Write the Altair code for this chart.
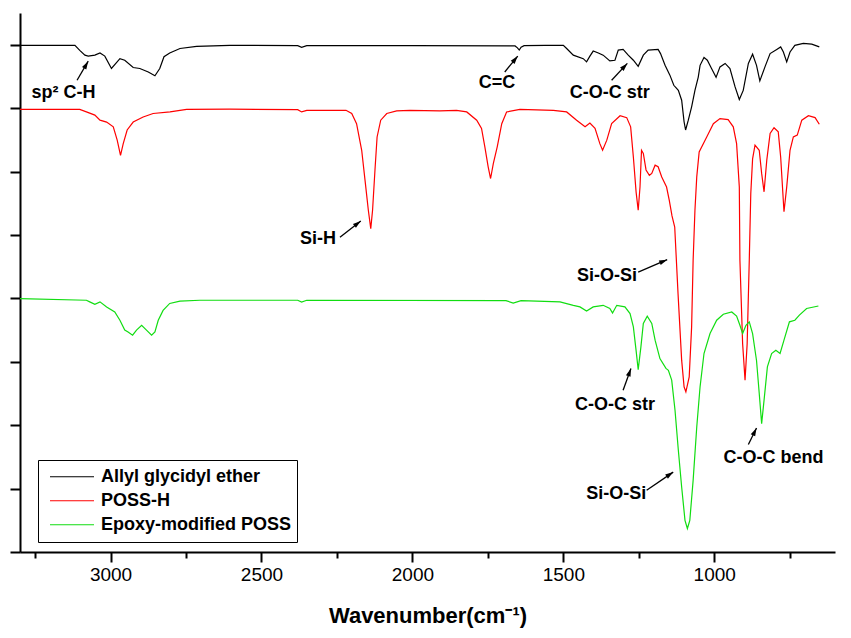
import math
import altair as alt
import pandas as pd

# ---------------- data ----------------
series_names = ["Allyl glycidyl ether", "POSS-H", "Epoxy-modified POSS"]
series_colors = ["#000000", "#ff0000", "#11dd11"]

allyl_wn = [3300, 3118, 3102, 3085, 3074, 3052, 3035, 3019, 2997, 2969, 2953, 2925, 2903, 2875,
            2853, 2837, 2823, 2804, 2770, 2715, 2605, 2380, 2367, 2350, 2000, 1660, 1652, 1646,
            1640, 1630, 1560, 1500, 1489, 1467, 1434, 1423, 1412, 1401, 1384, 1368, 1346, 1329,
            1318, 1302, 1285, 1268, 1252, 1235, 1219, 1186, 1178, 1163, 1147, 1134, 1119, 1108,
            1100, 1095, 1086, 1075, 1064, 1053, 1047, 1034, 1023, 1009, 994, 981, 964, 948, 931,
            917, 904, 887, 873, 860, 849, 832, 815, 793, 780, 771, 760, 749, 733, 705, 677, 652]
allyl_t = [15.98, 15.98, 15.82, 15.67, 15.64, 15.67, 15.74, 15.64, 15.25, 15.56, 15.51, 15.28,
           15.25, 15.14, 15.02, 15.25, 15.62, 15.74, 15.88, 15.95, 15.98, 15.97, 15.92, 15.97,
           15.97, 15.96, 15.90, 15.83, 15.92, 15.97, 15.98, 15.98, 15.88, 15.67, 15.56, 15.46,
           15.64, 15.80, 15.74, 15.67, 15.49, 15.51, 15.83, 15.85, 15.67, 15.51, 15.32, 15.67,
           15.83, 15.85, 15.72, 15.35, 15.04, 14.72, 14.56, 14.25, 13.57, 13.31, 13.62, 14.04,
           14.56, 14.98, 15.35, 15.60, 15.51, 15.25, 14.97, 15.30, 15.41, 15.25, 14.67, 14.27,
           14.56, 15.41, 15.70, 15.35, 14.86, 15.30, 15.72, 15.85, 15.93, 15.77, 15.46, 15.77,
           15.98, 16.04, 16.02, 15.93]

possh_wn = [3300, 3102, 3080, 3052, 3035, 3013, 2991, 2978, 2967, 2958, 2945, 2925, 2892, 2859,
            2803, 2748, 2605, 2380, 2367, 2350, 2220, 2201, 2185, 2168, 2157, 2146, 2138, 2132,
            2124, 2117, 2105, 2085, 2052, 2008, 1909, 1854, 1820, 1787, 1771, 1760, 1749, 1741,
            1732, 1719, 1704, 1688, 1644, 1533, 1489, 1456, 1428, 1412, 1395, 1379, 1370, 1356,
            1340, 1312, 1290, 1277, 1268, 1259, 1252, 1246, 1241, 1235, 1226, 1215, 1207, 1196,
            1186, 1174, 1158, 1149, 1140, 1131, 1120, 1108, 1100, 1094, 1083, 1075, 1070, 1064,
            1058, 1050, 1025, 1003, 981, 954, 937, 926, 917, 915, 906, 898, 891, 884, 879, 873,
            865, 851, 843, 835, 826, 815, 802, 788, 780, 769, 760, 749, 738, 725, 710, 688, 666, 652]
possh_t = [13.96, 13.96, 13.88, 13.78, 13.62, 13.56, 13.41, 12.99, 12.51, 12.88, 13.31, 13.56,
           13.72, 13.83, 13.88, 13.96, 13.97, 13.95, 13.88, 13.93, 13.93, 13.83, 13.51, 12.67,
           11.73, 10.78, 10.20, 10.78, 12.05, 13.09, 13.62, 13.83, 13.91, 13.93, 13.91, 13.93,
           13.88, 13.62, 13.36, 12.78, 12.15, 11.78, 12.25, 12.78, 13.51, 13.88, 13.96, 13.93,
           13.88, 13.62, 13.41, 13.53, 13.36, 12.88, 12.67, 12.99, 13.51, 13.76, 13.70, 13.41,
           12.46, 11.36, 10.78, 11.51, 12.67, 12.57, 12.05, 11.88, 11.94, 12.20, 12.15, 11.83,
           11.51, 11.09, 10.60, 10.25, 8.15, 6.05, 5.21, 5.05, 5.52, 7.10, 9.20, 10.78, 11.83,
           12.62, 13.09, 13.51, 13.67, 13.64, 13.41, 12.88, 11.51, 9.20, 6.57, 5.42, 6.57, 9.20,
           11.31, 12.40, 12.83, 12.67, 11.94, 11.36, 12.36, 13.20, 13.38, 13.25, 12.46, 10.73,
           11.51, 12.67, 13.09, 13.15, 13.62, 13.76, 13.70, 13.49]

epoxy_wn = [3300, 3080, 3069, 3052, 3035, 3013, 2986, 2969, 2953, 2942, 2927, 2914, 2897, 2881,
            2864, 2853, 2842, 2826, 2804, 2770, 2704, 2380, 2367, 2350, 1690, 1666, 1640, 1511,
            1467, 1445, 1423, 1401, 1368, 1346, 1337, 1323, 1296, 1279, 1268, 1259, 1252, 1243,
            1235, 1222, 1207, 1196, 1180, 1160, 1152, 1141, 1130, 1119, 1108, 1097, 1089, 1081,
            1070, 1058, 1047, 1034, 1014, 992, 970, 942, 926, 915, 906, 895, 884, 873, 860, 851,
            843, 835, 824, 810, 796, 782, 769, 751, 733, 718, 694, 655]
epoxy_t = [7.99, 7.94, 7.89, 7.81, 7.89, 7.73, 7.57, 7.31, 7.00, 6.94, 6.84, 7.00, 7.15, 7.00,
           6.84, 6.94, 7.31, 7.62, 7.84, 7.91, 7.94, 7.94, 7.88, 7.94, 7.93, 7.85, 7.93, 7.89,
           7.78, 7.73, 7.60, 7.73, 7.78, 7.68, 7.54, 7.78, 7.73, 7.52, 7.10, 6.36, 5.75, 6.47,
           7.21, 7.44, 7.21, 6.68, 6.10, 5.79, 5.73, 5.42, 4.47, 3.21, 2.05, 1.00, 0.74, 1.00,
           2.26, 3.94, 5.21, 6.26, 6.89, 7.31, 7.50, 7.57, 7.44, 7.15, 6.89, 7.15, 7.26, 6.89,
           6.04, 5.00, 4.05, 4.79, 5.84, 6.26, 6.36, 6.26, 6.68, 7.26, 7.31, 7.47, 7.68, 7.76]

# annotations: label centre and arrow tail -> head (data units)
ann_text = ["sp² C-H", "C=C", "C-O-C str", "Si-H", "Si-O-Si", "C-O-C str", "Si-O-Si", "C-O-C bend"]
ann_wn = [3156, 1720, 1346, 2313, 1355, 1329, 1325, 804]
ann_y = [14.47, 14.78, 14.48, 9.86, 8.70, 4.63, 1.84, 2.98]
arrow_wn0 = [3111, 1694, 1340, 2240, 1252, 1302, 1224, 887]
arrow_y0 = [14.88, 15.14, 14.88, 9.93, 8.83, 5.10, 1.95, 3.39]
arrow_wn1 = [3074, 1651, 1288, 2171, 1156, 1276, 1136, 860]
arrow_y1 = [15.48, 15.64, 15.41, 10.44, 9.22, 5.79, 2.52, 3.91]

x_domain = [3300, 600]
y_domain = [0, 17]
x_ticks = list(range(3250, 599, -250))
y_ticks = list(range(0, 18))

# ---------------- build tables ----------------
W, H = 815, 539
rows = []
for name, wns, ts in zip(series_names, [allyl_wn, possh_wn, epoxy_wn], [allyl_t, possh_t, epoxy_t]):
    for i, (w, t) in enumerate(zip(wns, ts)):
        rows.append({"series": name, "wn": w, "t": t, "order": i})
df = pd.DataFrame(rows)

px_per_wn = W / (x_domain[0] - x_domain[1])
px_per_y = H / (y_domain[1] - y_domain[0])
arr_rows = []
for w0, y0, w1, y1 in zip(arrow_wn0, arrow_y0, arrow_wn1, arrow_y1):
    dx = (w0 - w1) * px_per_wn
    dy = -(y1 - y0) * px_per_y
    ang = math.degrees(math.atan2(dx, -dy)) % 360
    arr_rows.append({"w0": w0, "y0": y0, "w1": w1, "y1": y1, "ang": ang})
arr_df = pd.DataFrame(arr_rows)
ann_df = pd.DataFrame({"text": ann_text, "wn": ann_wn, "y": ann_y})

FONT = "Liberation Sans"

xscale = alt.Scale(domain=x_domain, nice=False, zero=False)
yscale = alt.Scale(domain=y_domain, nice=False, zero=False)

x_axis = alt.Axis(
    values=x_ticks, format="d",
    labelExpr="datum.value % 500 === 0 ? datum.label : ''",
    tickSize={"condition": {"test": "datum.value % 500 === 0", "value": 10}, "value": 6},
    title="Wavenumber(cm⁻¹)", titleFontSize=22, titleFontWeight="bold", titleFont=FONT,
    titleColor="black", titlePadding=21,
    labelFont=FONT, labelFontSize=19, labelColor="black", labelPadding=3,
    grid=False, domainColor="black", domainWidth=2, tickColor="black", tickWidth=2,
)
y_axis = alt.Axis(
    values=y_ticks, labels=False, title=None,
    tickSize={"condition": {"test": "datum.value % 2 === 0", "value": 10}, "value": 6},
    grid=False, domainColor="black", domainWidth=2, tickColor="black", tickWidth=2,
)

lines = alt.Chart(df).mark_line(strokeWidth=1.2).encode(
    x=alt.X("wn:Q", scale=xscale, axis=x_axis),
    y=alt.Y("t:Q", scale=yscale, axis=y_axis),
    color=alt.Color(
        "series:N",
        scale=alt.Scale(domain=series_names, range=series_colors),
        legend=alt.Legend(
            title=None, orient="none", legendX=18, legendY=447,
            symbolType="stroke", symbolSize=1936, symbolStrokeWidth=1.2,
            symbolOffset=6, clipHeight=23.5, rowPadding=0, padding=5,
            labelFont=FONT, labelFontSize=18, labelFontWeight="bold", labelColor="black",
            labelOffset=6, labelLimit=400,
            strokeColor="black", fillColor="white",
        ),
    ),
    order="order:Q",
)

rules = alt.Chart(arr_df).mark_rule(color="black", strokeWidth=1.3).encode(
    x=alt.X("w0:Q", scale=xscale), y=alt.Y("y0:Q", scale=yscale),
    x2="w1:Q", y2="y1:Q",
)
heads = alt.Chart(arr_df).mark_point(
    shape="M0,0L-0.55,1.8L0.55,1.8Z", filled=True, color="black", opacity=1, size=80,
).encode(
    x=alt.X("w1:Q", scale=xscale), y=alt.Y("y1:Q", scale=yscale),
    angle=alt.Angle("ang:Q", scale=None),
)
labels = alt.Chart(ann_df).mark_text(
    font=FONT, fontSize=18, fontWeight="bold", color="black", align="center", baseline="middle",
).encode(
    x=alt.X("wn:Q", scale=xscale), y=alt.Y("y:Q", scale=yscale), text="text:N",
)

chart = alt.layer(lines, rules, heads, labels).properties(
    width=W, height=H,
    autosize=alt.AutoSizeParams(type="none"),
    padding={"left": 20, "top": 13, "right": 16, "bottom": 86},
    background="white",
).configure_view(stroke=None)

chart.save("out.html", embed_options={"renderer": "svg", "actions": False})
